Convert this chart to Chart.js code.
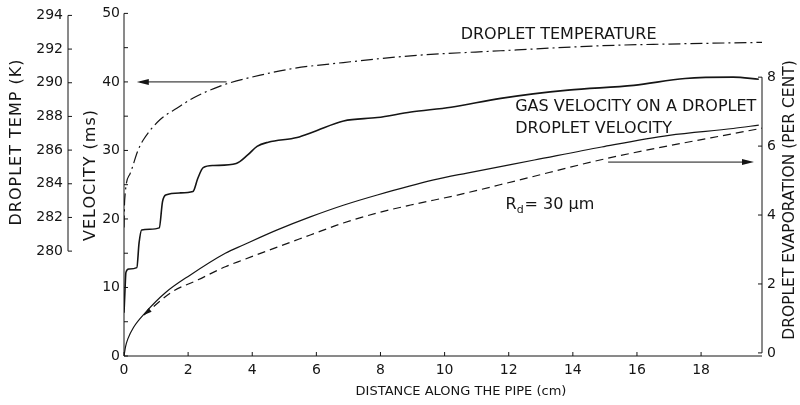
<!DOCTYPE html>
<html>
<head>
<meta charset="utf-8">
<script src="https://cdn.jsdelivr.net/npm/chart.js@4.4.1/dist/chart.umd.min.js"></script>
<style>
  html, body { margin: 0; padding: 0; background: #fff; }
  #wrap { width: 800px; height: 405px; position: relative; }
</style>
</head>
<body>
<div id="wrap"><canvas id="dropletChart"></canvas></div>
<script>
// Tick values
const distanceTicks = [0, 2, 4, 6, 8, 10, 12, 14, 16, 18];
const velocityTicks = [0, 5, 10, 15, 20, 25, 30, 35, 40, 45, 50];
const tempTicks = [280, 282, 284, 286, 288, 290, 292, 294];
const evapTicks = [0, 2, 4, 6, 8];

// Gas velocity seen by the droplet (m/s)
const gasDist = [0, 0.03, 0.06, 0.15, 0.4, 0.47, 0.55, 0.8, 1.1, 1.2, 1.3, 1.75, 2.15, 2.3, 2.47, 2.8, 3.5, 3.85, 4.15, 4.5, 5.4, 5.9, 6.85, 7.9, 8.95, 10.2, 11.75, 13.85, 15.9, 17.5, 19.0, 19.8];
const gasVel = [6.3, 9.5, 12.2, 12.7, 12.9, 16.5, 18.4, 18.5, 18.7, 22.5, 23.5, 23.8, 24.0, 25.9, 27.5, 27.8, 28.1, 29.3, 30.6, 31.2, 31.9, 32.7, 34.3, 34.8, 35.6, 36.3, 37.6, 38.8, 39.5, 40.5, 40.7, 40.4];

// Droplet velocity (m/s)
const dropDist = [0, 0.05, 0.12, 0.3, 0.66, 1.28, 2.06, 3.16, 3.72, 4.78, 5.81, 6.84, 7.9, 9.66, 10.7, 12.8, 14.9, 17.0, 19.0, 19.8];
const dropVel = [0, 1.4, 2.5, 4.2, 6.3, 9.2, 11.8, 15.0, 16.2, 18.4, 20.3, 22.0, 23.5, 25.7, 26.7, 28.6, 30.5, 32.2, 33.2, 33.7];

// Droplet evaporation (per cent), dashed curve starts at the small arrow
const evapDist = [0.62, 1.5, 2.31, 3.16, 3.72, 4.78, 5.81, 6.84, 7.9, 8.94, 10.4, 12.3, 15.1, 19.9];
const evapPct = [1.10, 1.77, 2.12, 2.5, 2.7, 3.07, 3.42, 3.77, 4.06, 4.29, 4.58, 5.01, 5.65, 6.52];

// Droplet temperature (K)
const tempDist = [0, 0.02, 0.19, 0.44, 0.6, 1.12, 1.66, 2.16, 3.0, 3.31, 4.25, 5.28, 6.84, 8.94, 11.75, 14.9, 17.0, 19.9];
const tempK = [281.4, 283.0, 284.6, 286.0, 286.6, 287.8, 288.5, 289.1, 289.8, 290.0, 290.45, 290.85, 291.2, 291.6, 291.9, 292.2, 292.3, 292.4];

const INK = '#151515';
const FONT = 'DejaVu Sans';

function pairs(xs, ys) {
    return xs.map((x, i) => ({ x: x, y: ys[i] }));
}

function arrowHead(ctx, tipX, tipY, fromX, fromY, len, half) {
    const a = Math.atan2(tipY - fromY, tipX - fromX);
    ctx.beginPath();
    ctx.moveTo(tipX, tipY);
    ctx.lineTo(tipX - len * Math.cos(a) + half * Math.sin(a), tipY - len * Math.sin(a) - half * Math.cos(a));
    ctx.lineTo(tipX - len * Math.cos(a) - half * Math.sin(a), tipY - len * Math.sin(a) + half * Math.cos(a));
    ctx.closePath();
    ctx.fill();
}

function rotatedText(ctx, text, cx, cy) {
    ctx.save();
    ctx.translate(cx, cy);
    ctx.rotate(-Math.PI / 2);
    ctx.textAlign = 'center';
    ctx.textBaseline = 'middle';
    ctx.fillText(text, 0, 0);
    ctx.restore();
}

// axes lines, inward ticks, titles and annotations
const paperPlugin = {
    id: 'paper',
    afterDatasetsDraw(chart) {
        const { ctx, chartArea } = chart;
        const { x, y, temp, evap } = chart.scales;
        ctx.save();
        ctx.strokeStyle = INK;
        ctx.fillStyle = INK;
        ctx.lineWidth = 1;

        // velocity axis
        ctx.beginPath();
        ctx.moveTo(chartArea.left, y.getPixelForValue(0));
        ctx.lineTo(chartArea.left, y.getPixelForValue(50));
        velocityTicks.forEach(v => {
            const py = y.getPixelForValue(v);
            ctx.moveTo(chartArea.left, py);
            ctx.lineTo(chartArea.left + 4, py);
        });
        ctx.stroke();

        // temperature axis (only spans 280-294)
        const tx = temp.right;
        ctx.beginPath();
        ctx.moveTo(tx, temp.getPixelForValue(280));
        ctx.lineTo(tx, temp.getPixelForValue(294));
        tempTicks.forEach(v => {
            const py = temp.getPixelForValue(v);
            ctx.moveTo(tx, py);
            ctx.lineTo(tx + 4, py);
        });
        ctx.stroke();

        // evaporation axis (0-8)
        const ex = chartArea.right;
        ctx.beginPath();
        ctx.moveTo(ex, evap.getPixelForValue(0));
        ctx.lineTo(ex, evap.getPixelForValue(8));
        evapTicks.forEach(v => {
            const py = evap.getPixelForValue(v);
            ctx.moveTo(ex, py);
            ctx.lineTo(ex - 4, py);
        });
        ctx.stroke();

        // distance axis
        const by = chartArea.bottom;
        ctx.beginPath();
        ctx.moveTo(chartArea.left, by);
        ctx.lineTo(chartArea.right, by);
        distanceTicks.forEach(v => {
            const px = x.getPixelForValue(v);
            ctx.moveTo(px, by);
            ctx.lineTo(px, by - 4);
        });
        ctx.stroke();

        // axis titles
        ctx.font = '16px "' + FONT + '"';
        ctx.letterSpacing = '1px';
        rotatedText(ctx, 'DROPLET TEMP (K)', temp.left + 17, 142);
        rotatedText(ctx, 'VELOCITY (ms)', y.left + 23, 175);
        ctx.letterSpacing = '0px';
        ctx.font = '15.5px "' + FONT + '"';
        rotatedText(ctx, 'DROPLET EVAPORATION (PER CENT)', evap.right - 10, 200);
        ctx.font = '13px "' + FONT + '"';
        ctx.textAlign = 'center';
        ctx.textBaseline = 'middle';
        ctx.fillText('DISTANCE ALONG THE PIPE (cm)', 461, by + 36);

        // annotations
        ctx.font = '16px "' + FONT + '"';
        ctx.textAlign = 'left';
        ctx.fillText('DROPLET TEMPERATURE', x.getPixelForValue(10.5), y.getPixelForValue(46.9));
        ctx.fillText('GAS VELOCITY ON A DROPLET', x.getPixelForValue(12.2), y.getPixelForValue(36.3));
        ctx.fillText('DROPLET VELOCITY', x.getPixelForValue(12.2), y.getPixelForValue(33.1));

        const rx = x.getPixelForValue(11.9);
        const ry = y.getPixelForValue(22.0);
        ctx.fillText('R', rx, ry);
        const rw = ctx.measureText('R').width;
        ctx.font = '11px "' + FONT + '"';
        ctx.fillText('d', rx + rw, ry + 5);
        const dw = ctx.measureText('d').width;
        ctx.font = '16px "' + FONT + '"';
        ctx.fillText('= 30 \u03BCm', rx + rw + dw + 1, ry);

        // arrow to temperature axis
        const ay = y.getPixelForValue(40);
        ctx.beginPath();
        ctx.moveTo(x.getPixelForValue(3.2), ay);
        ctx.lineTo(x.getPixelForValue(0.5), ay);
        ctx.stroke();
        arrowHead(ctx, x.getPixelForValue(0.4), ay, x.getPixelForValue(3.2), ay, 12, 3);

        // arrow to evaporation axis
        const by2 = y.getPixelForValue(28.3);
        ctx.beginPath();
        ctx.moveTo(x.getPixelForValue(15.1), by2);
        ctx.lineTo(x.getPixelForValue(19.5), by2);
        ctx.stroke();
        arrowHead(ctx, x.getPixelForValue(19.65), by2, x.getPixelForValue(15.1), by2, 12, 3);

        // little arrow head where the dashed curve starts
        arrowHead(ctx,
            x.getPixelForValue(evapDist[0]), evap.getPixelForValue(evapPct[0]),
            x.getPixelForValue(evapDist[1]), evap.getPixelForValue(evapPct[1]), 8, 2.5);

        ctx.restore();
    }
};

const tickFont = { family: FONT, size: 14 };

new Chart(document.getElementById('dropletChart'), {
    type: 'line',
    data: {
        datasets: [
            {
                label: 'Droplet temperature',
                data: pairs(tempDist, tempK),
                yAxisID: 'temp',
                borderColor: INK,
                borderWidth: 1.2,
                borderDash: [12, 4, 2, 4],
                pointRadius: 0,
                cubicInterpolationMode: 'monotone'
            },
            {
                label: 'Gas velocity on a droplet',
                data: pairs(gasDist, gasVel),
                yAxisID: 'y',
                borderColor: INK,
                borderWidth: 1.6,
                pointRadius: 0,
                cubicInterpolationMode: 'monotone'
            },
            {
                label: 'Droplet velocity',
                data: pairs(dropDist, dropVel),
                yAxisID: 'y',
                borderColor: INK,
                borderWidth: 1.2,
                pointRadius: 0,
                cubicInterpolationMode: 'monotone'
            },
            {
                label: 'Droplet evaporation',
                data: pairs(evapDist, evapPct),
                yAxisID: 'evap',
                borderColor: INK,
                borderWidth: 1.2,
                borderDash: [8, 5],
                pointRadius: 0,
                cubicInterpolationMode: 'monotone'
            }
        ]
    },
    options: {
        responsive: true,
        maintainAspectRatio: false,
        animation: false,
        layout: { padding: { top: 13, left: 0, right: 0, bottom: 0 } },
        plugins: {
            legend: { display: false },
            tooltip: { enabled: false }
        },
        scales: {
            x: {
                type: 'linear',
                position: 'bottom',
                min: 0,
                max: 19.9,
                afterBuildTicks: s => { s.ticks = distanceTicks.map(v => ({ value: v })); },
                afterFit: s => { s.height = 49; },
                grid: { display: false, drawTicks: false },
                border: { display: false },
                ticks: { color: INK, font: tickFont, padding: 6, maxRotation: 0, autoSkip: false }
            },
            y: {
                type: 'linear',
                position: 'left',
                weight: 0,
                min: 0,
                max: 50,
                afterBuildTicks: s => { s.ticks = velocityTicks.map(v => ({ value: v })); },
                afterFit: s => { s.width = 56; },
                grid: { display: false, drawTicks: false },
                border: { display: false },
                ticks: { color: INK, font: tickFont, padding: 4, autoSkip: false,
                         callback: v => (v % 10 === 0 ? v : '') }
            },
            temp: {
                type: 'linear',
                position: 'left',
                weight: 1,
                min: 273.77,
                max: 294.12,
                afterBuildTicks: s => { s.ticks = tempTicks.map(v => ({ value: v })); },
                afterFit: s => { s.width = 68; },
                grid: { display: false, drawTicks: false },
                border: { display: false },
                ticks: { color: INK, font: tickFont, padding: 5, autoSkip: false }
            },
            evap: {
                type: 'linear',
                position: 'right',
                min: -0.09,
                max: 9.85,
                afterBuildTicks: s => { s.ticks = evapTicks.map(v => ({ value: v })); },
                afterFit: s => { s.width = 38; },
                grid: { display: false, drawTicks: false },
                border: { display: false },
                ticks: { color: INK, font: tickFont, padding: 5, autoSkip: false }
            }
        }
    },
    plugins: [paperPlugin]
});
</script>
</body>
</html>
